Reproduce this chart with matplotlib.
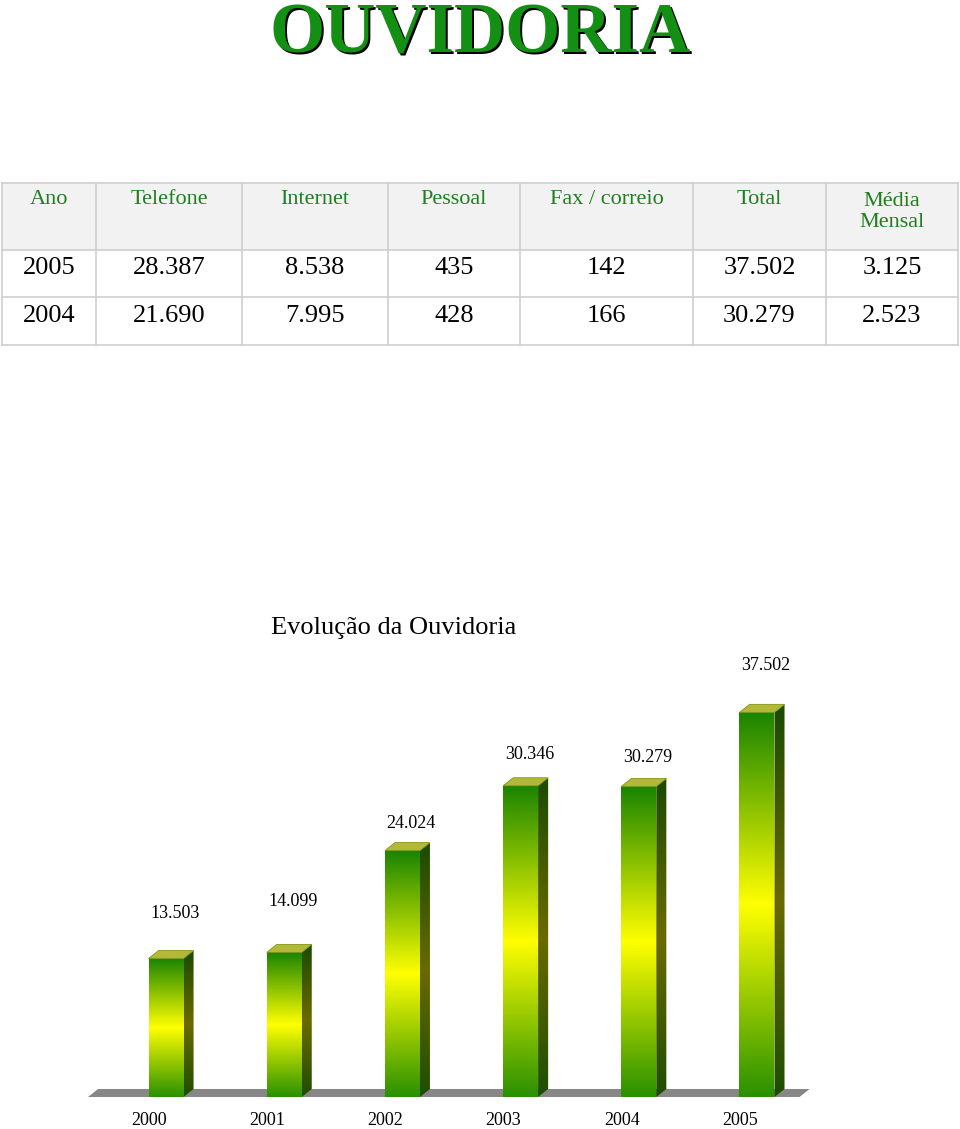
import numpy as np
import matplotlib.pyplot as plt
from matplotlib.colors import LinearSegmentedColormap
from matplotlib.patches import Polygon, Rectangle

plt.rcParams['font.family'] = ['Liberation Serif', 'DejaVu Serif']

# tabela
headers = ['Ano', 'Telefone', 'Internet', 'Pessoal', 'Fax / correio', 'Total', 'Média\nMensal']
row_2005 = ['2005', '28.387', '8.538', '435', '142', '37.502', '3.125']
row_2004 = ['2004', '21.690', '7.995', '428', '166', '30.279', '2.523']

# grafico
anos = ['2000', '2001', '2002', '2003', '2004', '2005']
totais = [13503, 14099, 24024, 30346, 30279, 37502]

W, H = 960, 1129
fig = plt.figure(figsize=(W / 100, H / 100), dpi=100)

# camada de fundo em pixels (titulo + tabela)
ax0 = fig.add_axes([0, 0, 1, 1])
ax0.set_xlim(0, W)
ax0.set_ylim(H, 0)
ax0.axis('off')

verde = '#138f13'
ax0.text(482, 54, 'OUVIDORIA', fontsize=51, weight='bold', color='black',
         ha='center', va='baseline')
ax0.text(480, 52, 'OUVIDORIA', fontsize=51, weight='bold', color=verde,
         ha='center', va='baseline')

col_edges = [2, 96, 242, 388, 520, 693, 826, 958]
row_edges = [183, 250, 297, 345]
linha = '#cfcfcf'

ax0.add_patch(Rectangle((col_edges[0], row_edges[0]), col_edges[-1] - col_edges[0],
                        row_edges[1] - row_edges[0], facecolor='#f2f2f2', edgecolor='none'))
for y in row_edges:
    ax0.plot([col_edges[0], col_edges[-1]], [y, y], color=linha, lw=1.2)
for x in col_edges:
    ax0.plot([x, x], [row_edges[0], row_edges[-1]], color=linha, lw=1.2)

for j, h in enumerate(headers):
    cx = (col_edges[j] + col_edges[j + 1]) / 2
    cy = 199 if '\n' not in h else 212
    ax0.text(cx, cy, h, fontsize=16, color='#1f7f1f', ha='center', va='center',
             linespacing=1.15)

for row, cy in [(row_2005, 268), (row_2004, 316)]:
    for j, val in enumerate(row):
        cx = (col_edges[j] + col_edges[j + 1]) / 2
        ax0.text(cx, cy, val, fontsize=19, color='black', ha='center', va='center')

ax0.text(394, 628, 'Evolução da Ouvidoria', fontsize=19, ha='center', va='center')

# grafico 3d "fake"
ax = fig.add_axes([60 / W, 0, 840 / W, 529 / H])
ax.axis('off')

front_cmap = LinearSegmentedColormap.from_list(
    'front', [(0, '#2a9000'), (0.5, '#ffff00'), (1, '#1a8400')])
side_cmap = LinearSegmentedColormap.from_list(
    'side', [(0, '#1d4d00'), (0.5, '#6a6a00'), (1, '#1b4a00')])
grad = np.linspace(0, 1, 256).reshape(-1, 1)

w = 0.148
dx = 0.085
dy = 780

x = np.arange(len(anos))

floor = Polygon([(-0.66, 0), (5.36, 0), (5.36 + dx, dy), (-0.66 + dx, dy)],
                closed=True, facecolor='#878787', edgecolor='none', zorder=1)
ax.add_patch(floor)

label_off = [4400, 5000, 2650, 3050, 2850, 4600]

for i, v in zip(x, totais):
    ax.imshow(grad, extent=[i - w, i + w, 0, v], origin='lower', aspect='auto',
              cmap=front_cmap, zorder=3)
    side = Polygon([(i + w, 0), (i + w + dx, dy), (i + w + dx, v + dy), (i + w, v)],
                   closed=True, facecolor='none', edgecolor='none')
    ax.add_patch(side)
    im = ax.imshow(grad, extent=[i + w, i + w + dx, 0, v + dy], origin='lower',
                   aspect='auto', cmap=side_cmap, zorder=2)
    im.set_clip_path(side)
    top = Polygon([(i - w, v), (i + w, v), (i + w + dx, v + dy), (i - w + dx, v + dy)],
                  closed=True, facecolor='#b4b83a', edgecolor='#7f9a10', lw=0.6, zorder=4)
    ax.add_patch(top)

for i, v, off in zip(x, totais, label_off):
    ax.text(i + 0.075, v + off, f'{v:,}'.replace(',', '.'), fontsize=13,
            ha='center', va='center')

for i, ano in zip(x, anos):
    ax.text(i - 0.145, -2300, ano, fontsize=13, ha='center', va='center')

ax.set_xlim(-0.897, 6.21)
ax.set_ylim(-3120, 48458)

fig.savefig('out.png', dpi=100)
